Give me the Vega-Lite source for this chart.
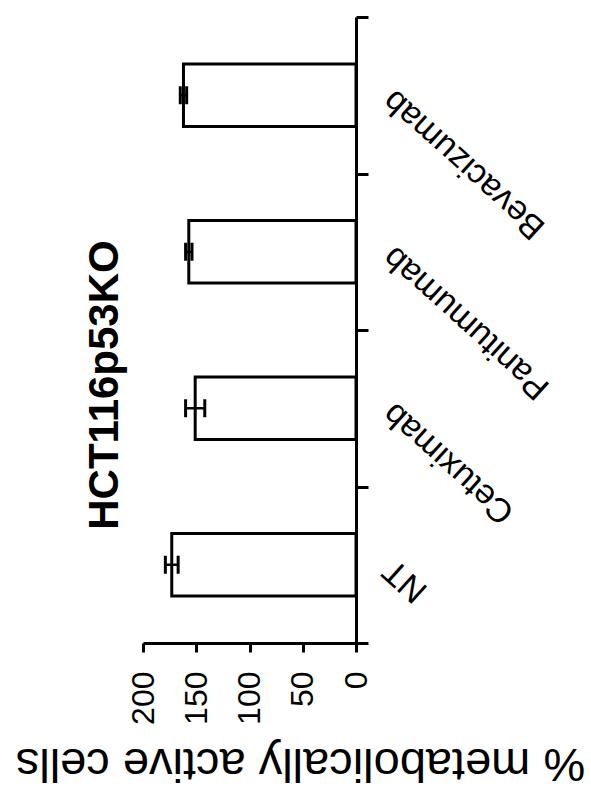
{
  "$schema": "https://vega.github.io/schema/vega-lite/v6.json",
  "autosize": "none",
  "width": 213,
  "height": 626,
  "padding": {"left": 143, "top": 17, "right": 235, "bottom": 150},
  "background": "white",
  "config": {
    "view": {"stroke": null},
    "font": "Liberation Sans"
  },
  "title": {
    "text": "HCT116p53KO",
    "orient": "left",
    "anchor": "middle",
    "angle": -90,
    "fontSize": 42,
    "fontWeight": "bold",
    "font": "Liberation Sans",
    "color": "black",
    "offset": -112,
    "dx": -55
  },
  "data": {
    "values": [
      {"treatment": "NT", "mean": 173, "lo": 167, "hi": 179},
      {"treatment": "Cetuximab", "mean": 151, "lo": 142, "hi": 160},
      {"treatment": "Panitumumab", "mean": 157, "lo": 154, "hi": 160},
      {"treatment": "Bevacizumab", "mean": 162, "lo": 159, "hi": 165}
    ]
  },
  "encoding": {
    "y": {
      "field": "treatment",
      "type": "nominal",
      "sort": ["Bevacizumab", "Panitumumab", "Cetuximab", "NT"],
      "scale": {"paddingInner": 0, "paddingOuter": 0},
      "axis": {
        "orient": "right",
        "title": null,
        "tickBand": "extent",
        "tickSize": 12,
        "tickWidth": 3,
        "tickColor": "black",
        "domainColor": "black",
        "domainWidth": 3,
        "labelAngle": 222,
        "labelAlign": "right",
        "labelBaseline": "middle",
        "labelFontSize": 34,
        "labelColor": "black",
        "labelPadding": 20,
        "labelLimit": 0,
        "labelFont": "Liberation Sans"
      }
    }
  },
  "layer": [
    {
      "mark": {"type": "bar", "fill": "white", "stroke": "black", "strokeWidth": 3, "height": {"band": 0.4}},
      "encoding": {
        "x": {
          "field": "mean",
          "type": "quantitative",
          "scale": {"domain": [0, 200], "reverse": true, "nice": false},
          "axis": {
            "orient": "bottom",
            "values": [0, 50, 100, 150, 200],
            "grid": false,
            "tickSize": 9,
            "tickWidth": 3,
            "tickColor": "black",
            "domainColor": "black",
            "domainWidth": 3,
            "labelAngle": 270,
            "labelAlign": "right",
            "labelBaseline": "middle",
            "labelFontSize": 32,
            "labelColor": "black",
            "labelPadding": 19,
            "labelFont": "Liberation Sans",
            "title": "% metabolically active cells",
            "titleFontSize": 47,
            "titleFontWeight": "normal",
            "titleFont": "Liberation Sans",
            "titleColor": "black",
            "titleAngle": 180,
            "titleAlign": "center",
            "titleBaseline": "middle",
            "titleX": 157,
            "titleY": 119
          }
        }
      }
    },
    {
      "mark": {"type": "rule", "stroke": "black", "strokeWidth": 2.5},
      "encoding": {
        "x": {"field": "lo", "type": "quantitative"},
        "x2": {"field": "hi"}
      }
    },
    {
      "mark": {"type": "tick", "color": "black", "opacity": 1, "thickness": 3, "size": 18},
      "encoding": {"x": {"field": "lo", "type": "quantitative"}}
    },
    {
      "mark": {"type": "tick", "color": "black", "opacity": 1, "thickness": 3, "size": 18},
      "encoding": {"x": {"field": "hi", "type": "quantitative"}}
    }
  ]
}
